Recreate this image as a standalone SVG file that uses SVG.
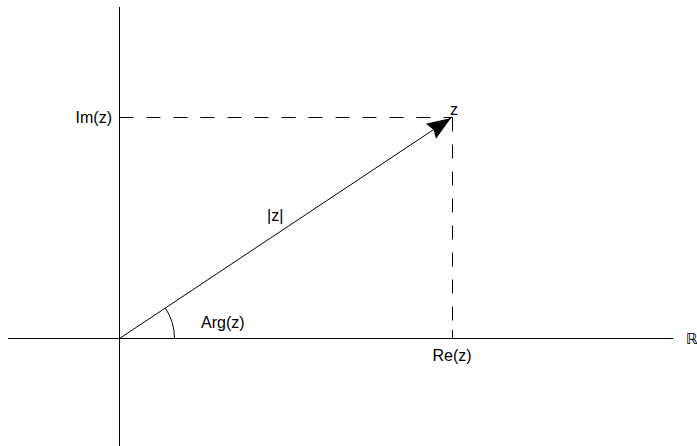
<svg xmlns="http://www.w3.org/2000/svg" width="697" height="446" viewBox="0 0 697 446">
<defs>
<style>
.ax{stroke:#000;stroke-width:1;fill:none}
.dash{stroke:#000;stroke-width:1;fill:none;stroke-dasharray:14,13}
text{font-family:"Liberation Sans",Arial,sans-serif;font-size:16px;fill:#000}
text.r{font-family:"DejaVu Sans",sans-serif;font-size:15px}
</style>
<marker id="ah" markerWidth="26" markerHeight="20" refX="24" refY="10" orient="auto" markerUnits="userSpaceOnUse">
<path d="M0,1 L24,10 L0,19 L3,10 Z" fill="#000"/>
</marker>
</defs>
<rect width="697" height="446" fill="#fff"/>
<g id="axes">
<line class="ax" x1="119.5" y1="7" x2="119.5" y2="446"/>
<line class="ax" x1="8" y1="338.5" x2="673" y2="338.5"/>
</g>
<g id="connectors">
<line class="dash" x1="119.5" y1="117.5" x2="452.5" y2="117.5"/>
<line class="ax" x1="119.5" y1="117.5" x2="127" y2="117.5"/>
<line class="dash" x1="452.5" y1="117.5" x2="452.5" y2="338.5"/>
<line class="ax" x1="452.5" y1="330" x2="452.5" y2="338.5"/>
<line class="ax" x1="119.5" y1="338.5" x2="451" y2="118" marker-end="url(#ah)"/>
<path class="ax" d="M174.5,338.5 A55,55 0 0 0 165.3,308"/>
</g>
<g id="labels">
<text x="112" y="123" text-anchor="end">Im(z)</text>
<text x="452" y="361" text-anchor="middle">Re(z)</text>
<text x="450" y="115">z</text>
<text x="267" y="221">|z|</text>
<text x="201" y="328">Arg(z)</text>
<text class="r" x="686" y="344">ℝ</text>
</g>
</svg>
